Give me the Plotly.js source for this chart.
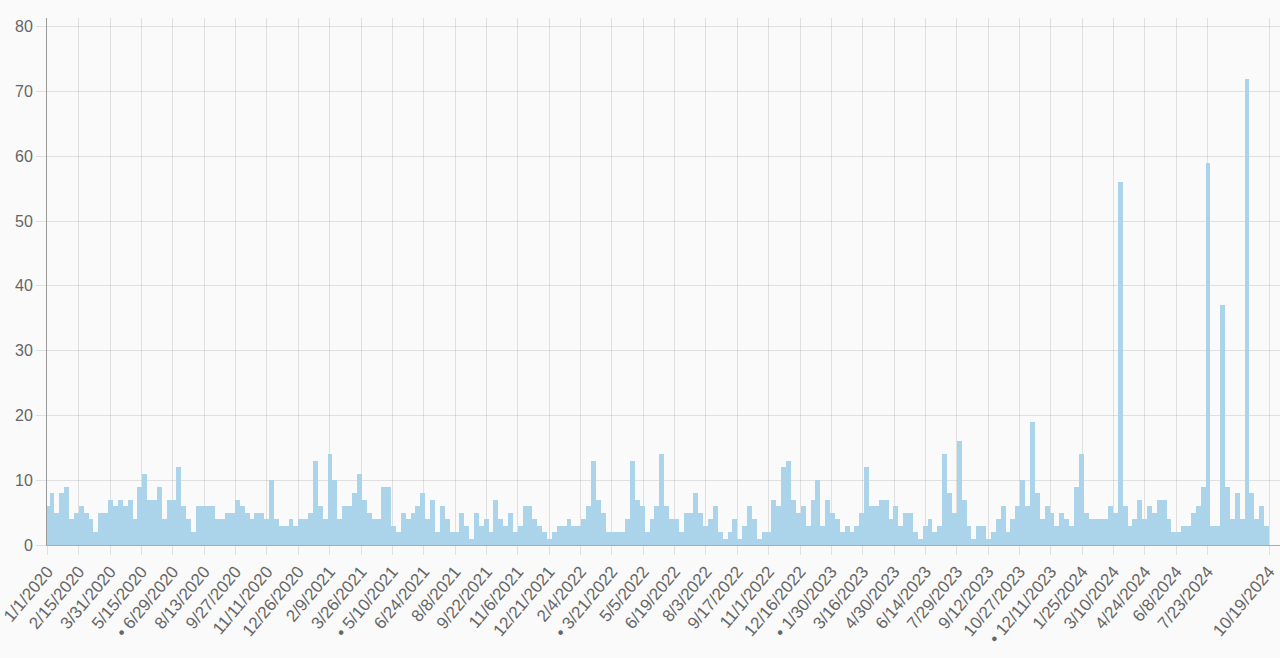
<!DOCTYPE html>
<html>
<head>
<meta charset="utf-8">
<script src="https://cdn.plot.ly/plotly-3.0.1.min.js"></script>
<style>
  html, body { margin: 0; padding: 0; background: #fafafa; }
  #chart { width: 1280px; height: 658px; }
</style>
</head>
<body>
<div id="chart"></div>
<script>
// weekly counts, first week starting 12/28/2019
const firstWeek = '2019-12-28'
const weeklyCounts = [
  6, 8, 5, 8, 9, 4, 5, 6, 5, 4, 2, 5, 5, 7, 6, 7, 6, 7, 4, 9,
  11, 7, 7, 9, 4, 7, 7, 12, 6, 4, 2, 6, 6, 6, 6, 4, 4, 5, 5, 7,
  6, 5, 4, 5, 5, 4, 10, 4, 3, 3, 4, 3, 4, 4, 5, 13, 6, 4, 14, 10,
  4, 6, 6, 8, 11, 7, 5, 4, 4, 9, 9, 3, 2, 5, 4, 5, 6, 8, 4, 7,
  2, 6, 4, 2, 2, 5, 3, 1, 5, 3, 4, 2, 7, 4, 3, 5, 2, 3, 6, 6,
  4, 3, 2, 1, 2, 3, 3, 4, 3, 3, 4, 6, 13, 7, 5, 2, 2, 2, 2, 4,
  13, 7, 6, 2, 4, 6, 14, 6, 4, 4, 2, 5, 5, 8, 5, 3, 4, 6, 2, 1,
  2, 4, 1, 3, 6, 4, 1, 2, 2, 7, 6, 12, 13, 7, 5, 6, 3, 7, 10, 3,
  7, 5, 4, 2, 3, 2, 3, 5, 12, 6, 6, 7, 7, 4, 6, 3, 5, 5, 2, 1,
  3, 4, 2, 3, 14, 8, 5, 16, 7, 3, 1, 3, 3, 1, 2, 4, 6, 2, 4, 6,
  10, 6, 19, 8, 4, 6, 5, 3, 5, 4, 3, 9, 14, 5, 4, 4, 4, 4, 6, 5,
  56, 6, 3, 4, 7, 4, 6, 5, 7, 7, 4, 2, 2, 3, 3, 5, 6, 9, 59, 3,
  3, 37, 9, 4, 8, 4, 72, 8, 4, 6, 3
]

const tickLabels = [
  '1/1/2020', '2/15/2020', '3/31/2020', '5/15/2020', '• 6/29/2020', '8/13/2020',
  '9/27/2020', '11/11/2020', '12/26/2020', '2/9/2021', '3/26/2021', '• 5/10/2021',
  '6/24/2021', '8/8/2021', '9/22/2021', '11/6/2021', '12/21/2021', '2/4/2022',
  '• 3/21/2022', '5/5/2022', '6/19/2022', '8/3/2022', '9/17/2022', '11/1/2022',
  '12/16/2022', '• 1/30/2023', '3/16/2023', '4/30/2023', '6/14/2023', '7/29/2023',
  '9/12/2023', '10/27/2023', '• 12/11/2023', '1/25/2024', '3/10/2024', '4/24/2024',
  '6/8/2024', '7/23/2024', '10/19/2024'
]

const DAY = 86400000

function isoDate (label) {
  const [m, d, y] = label.replace(/[^0-9/]/g, '').split('/')
  return y + '-' + m.padStart(2, '0') + '-' + d.padStart(2, '0')
}

const start = new Date(firstWeek + 'T00:00:00Z').getTime()
const weekDates = weeklyCounts.map((v, i) =>
  new Date(start + i * 7 * DAY).toISOString().slice(0, 10))

const trace = {
  type: 'bar',
  x: weekDates,
  y: weeklyCounts,
  width: 7 * DAY,
  offset: 0,
  marker: { color: '#abd4eb', line: { width: 0 } },
  hoverinfo: 'x+y'
}

const gridColor = 'rgba(0,0,0,0.1)'
const fontFamily = 'Liberation Sans, Arial, Helvetica, sans-serif'

const layout = {
  width: 1280,
  height: 658,
  margin: { l: 47, r: 0, t: 18, b: 113 },
  paper_bgcolor: '#fafafa',
  plot_bgcolor: '#fafafa',
  showlegend: false,
  bargap: 0,
  font: { family: fontFamily, size: 16, color: '#666' },
  xaxis: {
    type: 'date',
    range: ['2019-12-31 07:00', '2024-11-03 19:00'],
    tickmode: 'array',
    tickvals: tickLabels.map(isoDate),
    ticktext: tickLabels,
    tickangle: -50,
    ticklabeloverflow: 'allow',
    ticks: 'outside',
    ticklen: 9,
    tickcolor: gridColor,
    showgrid: true,
    gridcolor: gridColor,
    showline: true,
    linecolor: '#aaa',
    zeroline: false,
    tickfont: { size: 17, color: '#666' }
  },
  yaxis: {
    range: [0, 81.35],
    tickmode: 'linear',
    tick0: 0,
    dtick: 10,
    ticks: 'outside',
    ticklen: 10,
    tickcolor: gridColor,
    showgrid: true,
    gridcolor: gridColor,
    showline: true,
    linecolor: '#999',
    zeroline: false,
    tickfont: { size: 16, color: '#666' }
  }
}

Plotly.newPlot('chart', [trace], layout, { displayModeBar: false, staticPlot: true })
</script>
</body>
</html>
